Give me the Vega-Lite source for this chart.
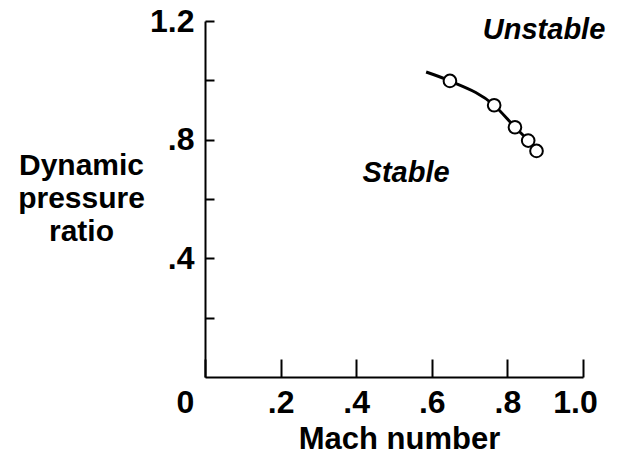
{
  "$schema": "https://vega.github.io/schema/vega-lite/v6.json",
  "width": 378,
  "height": 356,
  "autosize": "none",
  "padding": {"left": 205, "top": 21, "right": 42, "bottom": 79},
  "background": "white",
  "config": {
    "font": "Liberation Sans",
    "view": {"stroke": null},
    "axis": {
      "grid": false,
      "domainColor": "black",
      "domainWidth": 2,
      "tickColor": "black",
      "tickWidth": 2,
      "labelColor": "black",
      "labelFont": "Liberation Sans",
      "labelFontSize": 32,
      "labelFontWeight": "bold",
      "titleColor": "black",
      "titleFont": "Liberation Sans",
      "titleFontSize": 31,
      "titleFontWeight": "bold",
      "labelOverlap": false,
      "labelBound": false,
      "labelFlush": false
    }
  },
  "datasets": {
    "curve": [
      {"mach": 0.585, "ratio": 1.028},
      {"mach": 0.648, "ratio": 0.998},
      {"mach": 0.765, "ratio": 0.916},
      {"mach": 0.820, "ratio": 0.842},
      {"mach": 0.855, "ratio": 0.797},
      {"mach": 0.877, "ratio": 0.762}
    ],
    "points": [
      {"mach": 0.648, "ratio": 0.998},
      {"mach": 0.765, "ratio": 0.916},
      {"mach": 0.820, "ratio": 0.842},
      {"mach": 0.855, "ratio": 0.797},
      {"mach": 0.877, "ratio": 0.762}
    ],
    "regions": [
      {"mach": 0.532, "ratio": 0.688, "label": "Stable"},
      {"mach": 0.897, "ratio": 1.170, "label": "Unstable"}
    ]
  },
  "layer": [
    {
      "data": {"name": "curve"},
      "mark": {"type": "line", "color": "black", "strokeWidth": 3, "interpolate": "monotone"},
      "encoding": {
        "x": {
          "field": "mach",
          "type": "quantitative",
          "scale": {"domain": [0, 1], "nice": false, "zero": true},
          "axis": {
            "title": "Mach number",
            "titleX": 194,
            "titlePadding": 6,
            "values": [0, 0.1, 0.2, 0.3, 0.4, 0.5, 0.6, 0.7, 0.8, 0.9, 1.0],
            "tickSize": {"condition": {"test": "round(datum.value*10)%2==1", "value": -10}, "value": -18},
            "labelPadding": 28,
            "labelOffset": {"condition": [{"test": "datum.value==0", "value": -20}, {"test": "datum.value==1", "value": -8}], "value": 0},
            "labelExpr": "round(datum.value*10)%2==1 ? '' : datum.value==0 ? '0' : datum.value==1 ? '1.0' : replace(format(datum.value,'.1f'),'0.','.')"
          }
        },
        "y": {
          "field": "ratio",
          "type": "quantitative",
          "scale": {"domain": [0, 1.2], "nice": false, "zero": true},
          "axis": {
            "title": ["Dynamic", "pressure", "ratio"],
            "titleFontSize": 30,
            "titleAngle": 0,
            "titleAlign": "center",
            "titleBaseline": "middle",
            "titleX": -124,
            "titleY": 144,
            "titleLineHeight": 33,
            "values": [0.2, 0.4, 0.6, 0.8, 1.0, 1.2],
            "tickSize": -9,
            "labelPadding": 20,
            "labelExpr": "round(datum.value*10)%4==0 ? replace(format(datum.value,'.1f'),'0.','.') : ''"
          }
        }
      }
    },
    {
      "data": {"name": "points"},
      "mark": {"type": "point", "shape": "circle", "filled": true, "fill": "white", "stroke": "black", "strokeWidth": 2, "size": 160, "opacity": 1},
      "encoding": {
        "x": {"field": "mach", "type": "quantitative"},
        "y": {"field": "ratio", "type": "quantitative"}
      }
    },
    {
      "data": {"name": "regions"},
      "mark": {"type": "text", "font": "Liberation Sans", "fontSize": 29, "fontWeight": "bold", "fontStyle": "italic", "color": "black", "align": "center", "baseline": "middle"},
      "encoding": {
        "x": {"field": "mach", "type": "quantitative"},
        "y": {"field": "ratio", "type": "quantitative"},
        "text": {"field": "label"}
      }
    }
  ]
}
